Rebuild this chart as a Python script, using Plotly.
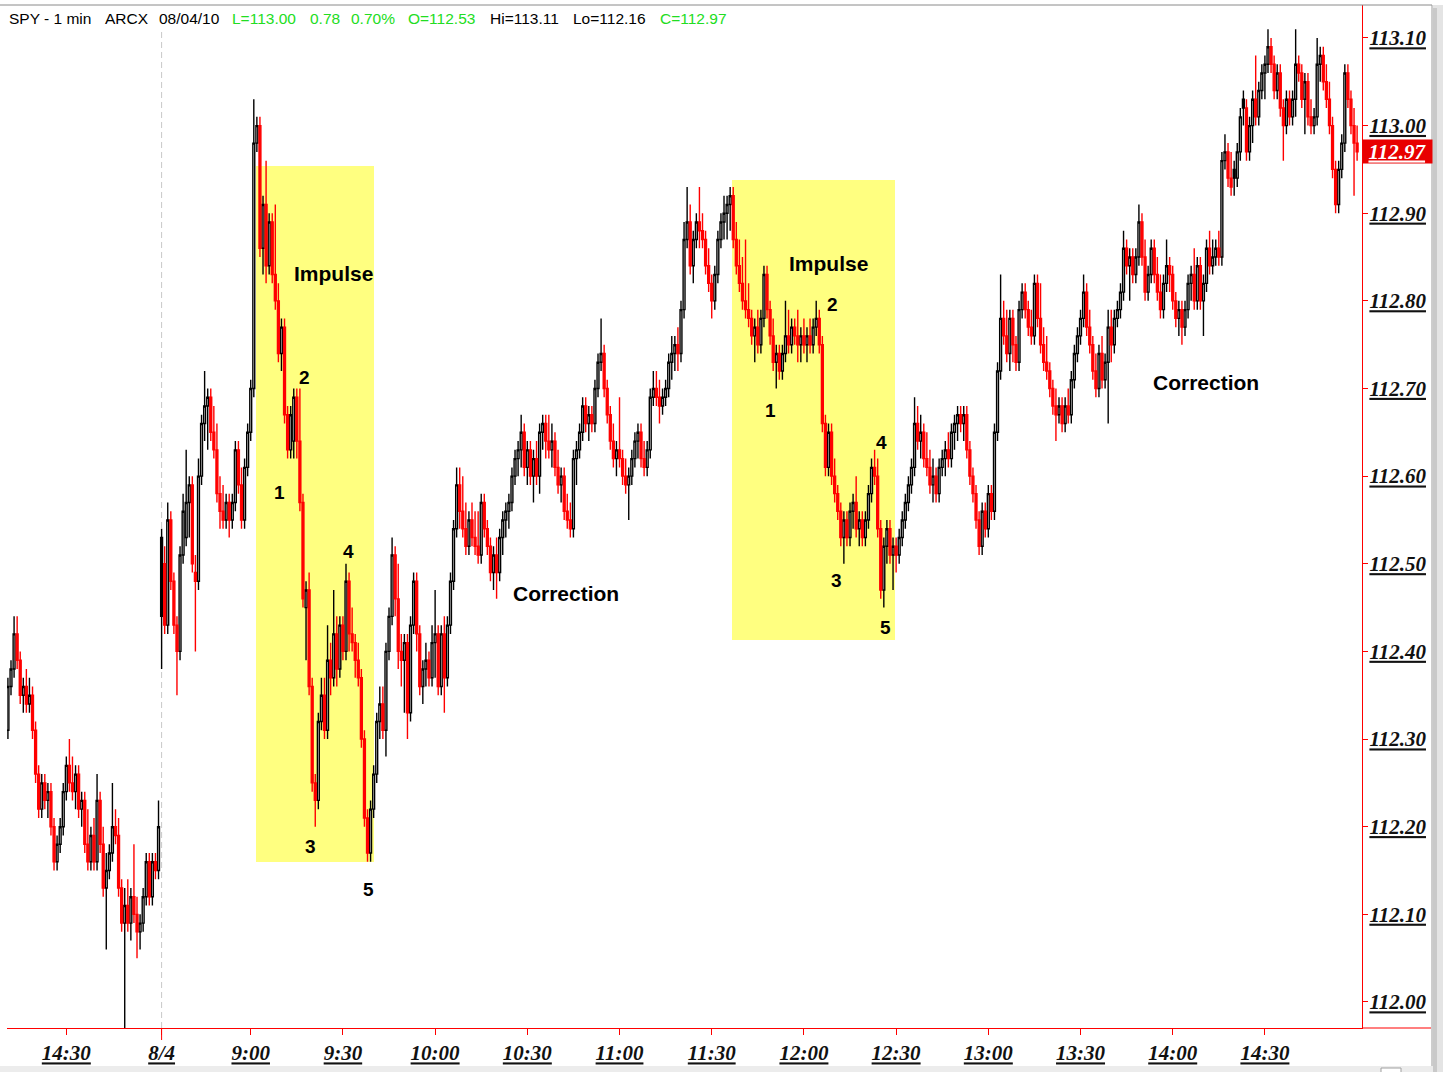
import plotly.graph_objects as go

# ---------------- DATA: 1-minute SPY bars, values in cents above 112.00 ----------------
# bars 0-49: previous session 14:11-15:00, bars 50-439: 08/04/10 session 8:31-15:00
OPEN_C = [
    31,36,38,42,39,35,36,34,35,31, 26,22,25,23,24,20,16,18,20,24, 27,25,24,26,22,23,18,16,19,16,
    23,18,13,15,17,20,19,13,9,11, 9,12,10,8,9,12,16,12,16,15,
    53,50,43,55,48,43,40,51,53,57, 59,49,48,60,66,68,69,65,63,58, 56,55,57,55,57,63,59,55,61,65,
    70,98,100,86,91,84,89,83,80,74, 77,67,63,64,69,64,57,45,47,36,
    25,23,32,35,31,39,37,42,38,43, 40,48,42,41,39,37,30,21,17,22, 26,32,34,31,40,44,51,46,40,39,
    41,33,43,48,42,36,38,39,37,41, 42,36,42,37,43,48,54,59,56,54,
    52,55,53,52,51,57,54,52,49,51, 49,53,55,56,57,60,62,63,65,61, 63,60,62,60,65,66,64,63,64,61,
    59,60,56,55,54,62,63,65,68,66, 67,66,70,73,74,70,67,64,62,63,
    62,60,59,60,62,64,65,62,61,63, 69,70,69,68,69,70,73,74,75,74, 79,87,89,84,87,89,88,87,84,82,
    80,83,87,89,90,91,92,87,84,82, 80,79,78,76,77,75,78,83,79,76,
    73,74,72,74,76,75,77,76,75,76, 75,76,75,77,78,75,66,61,65,60, 58,56,53,55,53,56,57,54,55,53,
    55,58,61,60,54,47,52,54,51,52, 51,53,55,57,59,61,66,64,65,62,
    61,59,60,58,61,62,63,62,65,66, 67,66,67,63,60,58,55,52,56,54, 58,56,65,72,78,76,74,78,75,73,
    79,81,79,77,76,82,78,75,73,72, 70,68,67,68,66,68,67,71,74,76,
    78,81,77,75,72,70,74,71,73,77, 75,78,79,81,86,84,85,83,85,89, 85,81,83,86,83,81,79,82,84,83,
    80,78,79,77,79,82,83,80,84,80, 82,86,84,85,86,85,96,97,94,95,
    94,97,103,102,97,100,103,101,104,106, 107,109,107,104,106,102,100,103,101,103,
    107,106,103,105,101,100,101,107,108,105, 103,100,95,91,95,98,106,103,100,98,
]
HIGH_C = [
    37,39,44,44,40,37,38,37,36,32, 27,26,26,25,25,21,19,21,25,28, 30,28,27,27,24,24,22,20,21,26,
    24,20,17,18,25,22,21,14,13,14, 13,18,12,10,13,17,17,17,17,23,
    54,52,57,56,49,44,52,58,63,60, 60,51,62,67,72,70,70,68,66,60, 59,58,58,58,64,64,61,62,66,71,
    103,101,101,92,96,90,90,91,82,78, 78,68,68,70,70,70,58,48,49,37,
    26,33,37,37,43,41,47,44,44,44, 50,49,45,42,41,38,31,22,23,27, 33,36,36,41,45,53,52,50,42,42,
    42,44,49,49,43,39,41,40,43,47, 43,43,44,44,49,55,61,61,60,57,
    56,57,56,56,58,58,55,53,52,53, 54,56,57,58,61,63,64,67,66,64, 64,63,64,66,67,67,67,66,65,63,
    61,61,58,57,63,64,66,69,69,68, 68,71,74,78,75,71,68,66,64,69,
    63,62,61,63,65,66,66,64,64,70, 72,72,71,70,71,74,76,76,77,80, 89,93,91,88,90,93,90,88,86,83,
    84,88,90,92,92,93,93,89,87,85, 87,82,79,78,79,79,84,84,80,78,
    75,75,75,80,79,78,78,79,77,78, 77,78,78,80,79,76,67,66,66,62, 59,57,56,56,57,58,60,56,56,56,
    59,62,63,62,55,53,55,55,53,53, 54,56,58,60,62,69,68,67,66,65,
    63,62,61,62,63,64,65,66,67,68, 68,68,68,64,61,59,56,57,57,59, 59,66,73,83,80,79,79,79,76,80,
    82,82,80,79,83,83,82,77,76,73, 71,70,69,69,69,70,72,75,77,79,
    83,82,79,76,74,75,76,74,79,79, 79,80,82,88,87,86,86,86,91,90, 87,84,87,87,85,83,83,87,85,84,
    81,80,80,80,83,84,86,85,85,83, 87,88,87,87,88,97,99,98,97,96,
    98,102,104,103,101,104,108,105,107,108, 111,110,108,107,107,103,104,104,104,111,
    108,107,106,106,103,102,110,109,109,107, 105,101,96,96,99,107,107,104,102,100,
]
LOW_C = [
    30,35,37,38,34,33,33,33,30,25, 21,21,22,21,19,15,15,17,19,23, 24,23,22,21,20,17,15,15,15,15,
    17,12,6,14,16,18,12,8,-3,8, 7,9,5,6,8,11,11,11,14,14,
    38,42,42,47,42,35,39,50,52,53, 49,40,47,59,64,63,64,62,57,54, 54,54,53,54,56,58,54,54,60,64,
    69,97,85,83,82,83,82,79,73,72, 66,62,62,62,62,56,45,39,35,24,
    20,22,31,30,30,35,36,36,37,39, 39,40,40,37,36,29,20,16,16,21, 25,30,30,28,39,43,44,38,36,33,
    30,32,42,40,35,34,36,36,36,37, 35,35,33,36,42,47,53,54,53,51,
    51,52,51,50,50,53,51,48,47,46, 48,51,53,54,56,59,60,61,60,59, 59,57,59,58,63,62,62,61,60,58,
    57,55,54,53,53,59,62,64,65,64, 65,65,69,72,69,66,63,61,60,61,
    59,58,55,59,61,62,61,60,60,62, 68,68,66,67,68,69,71,72,72,73, 78,86,83,82,86,86,86,83,81,78,
    79,82,86,87,87,88,86,83,81,79, 78,77,75,73,74,74,77,78,75,72,
    70,71,71,73,74,74,75,73,73,74, 73,74,74,76,74,65,60,60,59,57, 55,52,50,52,52,54,53,52,52,52,
    54,57,59,53,46,45,50,50,47,49, 50,52,54,56,58,60,63,62,61,60,
    58,57,57,57,60,60,61,61,63,64, 65,64,62,59,57,54,51,51,53,53, 55,55,64,71,75,73,72,73,72,72,
    78,78,76,75,75,77,74,72,71,69, 67,64,66,65,65,66,66,70,73,75,
    77,76,74,71,69,69,70,70,66,73, 74,77,78,80,83,80,82,82,84,84, 80,80,82,82,80,78,78,81,81,79,
    77,76,75,76,78,80,79,79,79,76, 81,83,83,84,84,84,95,93,92,92,
    93,96,100,96,96,98,100,100,103,103, 106,106,103,103,101,96,99,100,100,101,
    105,102,99,100,99,99,100,105,104,102, 99,94,90,90,94,97,102,99,92,96,
]
CLOSE_C = [
    36,38,42,39,35,36,34,35,31,26, 22,25,23,24,20,16,18,20,24,27, 25,24,26,22,23,18,16,19,16,23,
    18,13,15,17,20,19,13,9,11,9, 12,10,8,9,12,16,12,16,15,20,
    44,43,55,48,43,40,51,56,57,59, 50,48,60,66,68,69,65,63,58,56, 55,57,55,57,63,59,55,61,65,70,
    98,100,86,91,84,89,83,80,74,77, 67,63,67,69,64,57,46,47,36,25,
    23,32,35,31,39,37,42,38,43,40, 48,42,41,39,37,30,21,17,22,26, 32,34,31,40,44,51,46,40,39,41,
    33,43,48,42,36,38,39,37,41,42, 36,42,37,43,48,54,59,56,54,52,
    55,53,52,51,57,54,52,49,51,49, 53,55,56,57,60,62,63,65,61,63, 60,62,60,65,66,64,63,64,61,59,
    60,56,55,54,62,63,65,68,66,67, 66,70,73,74,70,67,64,62,63,62,
    60,59,60,62,64,65,62,61,63,69, 70,69,68,69,70,73,74,75,74,79, 87,89,84,87,89,88,87,84,82,80,
    83,87,89,90,91,92,87,84,82,80, 79,78,76,77,75,78,83,79,76,73,
    74,72,74,76,75,77,76,75,76,75, 76,75,77,78,75,66,61,65,60,58, 56,53,55,53,56,57,54,55,53,55,
    58,61,60,54,47,52,54,51,52,51, 53,55,57,59,61,66,64,65,62,61,
    59,60,58,61,62,63,62,65,66,67, 66,67,63,60,58,55,52,56,54,58, 56,65,72,78,76,74,78,75,73,79,
    81,79,77,76,82,78,75,73,72,70, 68,67,68,66,68,67,71,74,76,78,
    81,77,75,72,70,74,71,73,77,75, 78,79,81,86,84,85,83,85,89,85, 81,83,86,83,81,79,82,84,83,80,
    78,79,77,79,82,83,80,84,80,82, 86,84,85,86,85,96,97,94,93,94,
    97,101,102,97,100,103,101,104,106,107, 109,107,104,106,102,100,103,101,103,107,
    106,103,105,101,100,101,107,108,105,103, 100,95,91,95,98,106,103,100,98,97,
]
BASE_PRICE = 112.00

TIME_TICK_BARS = [19, 50, 79, 109, 139, 169, 199, 229, 259, 289, 319, 349, 379, 409]
TIME_TICK_TEXT = ["14:30", "8/4", "9:00", "9:30", "10:00", "10:30", "11:00", "11:30",
                  "12:00", "12:30", "13:00", "13:30", "14:00", "14:30"]
PRICE_TICKS = [112.00, 112.10, 112.20, 112.30, 112.40, 112.50, 112.60,
               112.70, 112.80, 112.90, 113.00, 113.10]
LAST_PRICE = 112.97
SESSION_START_BAR = 50

HEADER_PARTS = [  # text, colour, left pixel
    ("SPY - 1 min", "#000000", 7), ("ARCX", "#000000", 103), ("08/04/10", "#000000", 157),
    ("L=113.00", "#22dd22", 230), ("0.78", "#22dd22", 308), ("0.70%", "#22dd22", 349),
    ("O=112.53", "#22dd22", 406), ("Hi=113.11", "#000000", 488), ("Lo=112.16", "#000000", 571),
    ("C=112.97", "#22dd22", 658),
]
WAVE_LABELS = [  # text, pixel x, pixel y, size
    ("Impulse", 333, 273, 21), ("Impulse", 828, 263, 21),
    ("Correction", 566, 593, 21), ("Correction", 1206, 382, 21),
    ("1", 279, 492, 19), ("2", 304, 377, 19), ("3", 310, 846, 19), ("4", 348, 551, 19), ("5", 368, 889, 19),
    ("1", 770, 410, 19), ("2", 832, 304, 19), ("3", 836, 580, 19), ("4", 881, 442, 19), ("5", 885, 627, 19),
]
BOXES = [(256, 166, 374, 862), (732, 180, 895, 640)]  # pixel boxes of the yellow impulse zones

assert len(OPEN_C) == len(HIGH_C) == len(LOW_C) == len(CLOSE_C) == 440

# ---------------- geometry ----------------
W, H = 1443, 1072
PL, PR, PT, PB = 7, 1362, 5, 1028
X_RANGE = [-0.303, 440.59]
Y_RANGE = [111.9703, 113.1376]


def dx(X):
    return X_RANGE[0] + (X - PL) / (PR - PL) * (X_RANGE[1] - X_RANGE[0])


def dy(Y):
    return Y_RANGE[0] + (PB - Y) / (PB - PT) * (Y_RANGE[1] - Y_RANGE[0])


def fx(X):
    return (X - PL) / (PR - PL)


def fy(Y):
    return (PB - Y) / (PB - PT)


def price(v):
    return round(BASE_PRICE + v / 100.0, 2)


n = len(CLOSE_C)
up_idx = [i for i in range(n) if i == 0 or CLOSE_C[i] >= CLOSE_C[i - 1]]
up_set = set(up_idx)
dn_idx = [i for i in range(n) if i not in up_set]


def candles(sel, color, down_fill):
    return go.Candlestick(
        x=sel,
        open=[price(OPEN_C[i]) for i in sel],
        high=[price(HIGH_C[i]) for i in sel],
        low=[price(LOW_C[i]) for i in sel],
        close=[price(CLOSE_C[i]) for i in sel],
        increasing=dict(line=dict(color=color, width=1.4), fillcolor="#ffffff"),
        decreasing=dict(line=dict(color=color, width=1.4), fillcolor=down_fill),
        whiskerwidth=0, hoverinfo="skip", showlegend=False,
    )


fig = go.Figure([candles(up_idx, "#000000", "#000000"), candles(dn_idx, "#ff0000", "#ff0000")])

shapes = []
for (x0, y0, x1, y1) in BOXES:
    shapes.append(dict(type="rect", xref="x", yref="y", x0=dx(x0), x1=dx(x1), y0=dy(y1), y1=dy(y0),
                       fillcolor="#ffff80", line=dict(width=0), layer="below"))
# session separator
shapes.append(dict(type="line", xref="x", yref="paper", x0=SESSION_START_BAR, x1=SESSION_START_BAR,
                   y0=0, y1=fy(28), line=dict(color="#c8c8c8", width=1, dash="6px,4px"), layer="below"))
shapes.append(dict(type="line", xref="x", yref="paper", x0=SESSION_START_BAR, x1=SESSION_START_BAR,
                   y0=fy(PB), y1=fy(PB + 12), line=dict(color="#ff0000", width=1)))
# x axis line extends past the price axis
shapes.append(dict(type="line", xref="paper", yref="paper", x0=1, x1=fx(1431), y0=0, y1=0,
                   line=dict(color="#ff0000", width=1.2)))
# frame: top border, right border + shadow, bottom strip
shapes.append(dict(type="line", xref="paper", yref="paper", x0=fx(0), x1=fx(1432), y0=fy(PT), y1=fy(PT),
                   line=dict(color="#8a8a8a", width=1)))
shapes.append(dict(type="rect", xref="paper", yref="paper", x0=fx(1433), x1=fx(1443), y0=fy(1072), y1=fy(PT),
                   fillcolor="#e4e4e4", line=dict(width=0)))
shapes.append(dict(type="rect", xref="paper", yref="paper", x0=fx(1433), x1=fx(1437), y0=fy(1072), y1=fy(PT + 3),
                   fillcolor="#c9c9c9", line=dict(width=0)))
shapes.append(dict(type="line", xref="paper", yref="paper", x0=fx(1432), x1=fx(1432), y0=fy(1066), y1=fy(PT),
                   line=dict(color="#9a9a9a", width=1)))
shapes.append(dict(type="rect", xref="paper", yref="paper", x0=fx(0), x1=fx(1433), y0=fy(1072), y1=fy(1066),
                   fillcolor="#ececec", line=dict(width=0)))
shapes.append(dict(type="rect", xref="paper", yref="paper", x0=fx(1381), x1=fx(1401), y0=fy(1073), y1=fy(1068),
                   fillcolor="#ffffff", line=dict(color="#a0a0a0", width=1)))

annotations = []
for text, color, left in HEADER_PARTS:
    annotations.append(dict(text=text, xref="paper", yref="paper", x=fx(left), y=fy(19),
                            xanchor="left", yanchor="middle", showarrow=False,
                            font=dict(family="Liberation Sans, Arial", size=15.5, color=color)))
for text, X, Y, size in WAVE_LABELS:
    annotations.append(dict(text=text, xref="x", yref="y", x=dx(X), y=dy(Y),
                            xanchor="center", yanchor="middle", showarrow=False,
                            font=dict(family="Liberation Sans, Arial", size=size, color="#000000",
                                      weight="bold")))
annotations.append(dict(text=f"{LAST_PRICE:.2f}", xref="paper", yref="y", x=1.0, y=LAST_PRICE,
                        xanchor="left", yanchor="middle", showarrow=False, width=69, height=23,
                        bgcolor="#e80000", borderpad=0,
                        font=dict(family="Liberation Serif, Times New Roman", size=21, color="#ffffff",
                                  weight="bold", style="italic", lineposition="under")))

tick_font = dict(family="Liberation Serif, Times New Roman", size=21, color="#111111",
                 weight="bold", style="italic", lineposition="under")

fig.update_layout(
    width=W, height=H,
    margin=dict(l=PL, r=W - PR, t=PT, b=H - PB),
    paper_bgcolor="#ffffff", plot_bgcolor="#ffffff",
    boxgap=0.12, hovermode=False, showlegend=False,
    shapes=shapes, annotations=annotations,
    xaxis=dict(range=X_RANGE, rangeslider=dict(visible=False), tickmode="array",
               tickvals=TIME_TICK_BARS, ticktext=TIME_TICK_TEXT, ticks="outside", ticklen=6,
               tickcolor="#ff0000", tickwidth=1, showline=True, linecolor="#ff0000", linewidth=1.2,
               showgrid=False, zeroline=False, tickfont=tick_font, fixedrange=True),
    yaxis=dict(range=Y_RANGE, side="right", tickmode="array", tickvals=PRICE_TICKS,
               ticktext=[f"{p:.2f}" for p in PRICE_TICKS], ticks="outside", ticklen=5,
               tickcolor="#ff0000", tickwidth=1, showline=True, linecolor="#ff0000", linewidth=1.2,
               showgrid=False, zeroline=False, tickfont=tick_font, fixedrange=True,
               ticklabelstandoff=-3),
)

fig.write_html("out.html", config={"displayModeBar": False, "staticPlot": True},
               post_script="document.body.style.margin='0px';document.body.style.overflow='hidden';")
